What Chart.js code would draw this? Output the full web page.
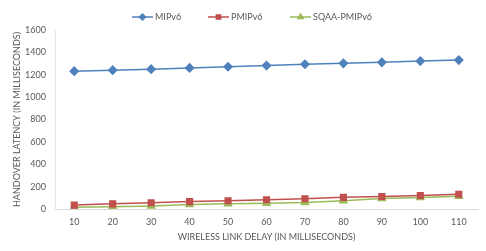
<!DOCTYPE html>
<html><head><meta charset="utf-8">
<script src="https://cdn.jsdelivr.net/npm/chart.js@4/dist/chart.umd.min.js"></script>
<style>html,body{margin:0;padding:0;background:#fff}#w{width:486px;height:251px}</style>
</head><body><div id="w"><canvas id="c"></canvas></div>
<script>
const categories = ['10','20','30','40','50','60','70','80','90','100','110'];
const mipv6 = [1232,1241,1250,1261,1272,1282,1294,1302,1311,1322,1331];
const pmipv6 = [35,46,56,66,74,83,92,104,112,121,132];
const sqaa = [15,21,27,40,46,52,58,73,94,102,113];
const yTicks = [0,200,400,600,800,1000,1200,1400,1600];
const seriesNames = ['MIPv6','PMIPv6','SQAA-PMIPv6'];

const FONT = 'Lato, "Open Sans", sans-serif';
const legendPlugin = {
  id: 'lineLegend',
  afterDraw(chart) {
    const ctx = chart.ctx;
    const xs = [132, 208, 290];
    const y = 17;
    chart.data.datasets.forEach((ds, i) => {
      const x = xs[i];
      ctx.save();
      ctx.strokeStyle = ds.borderColor; ctx.lineWidth = 1.5;
      ctx.beginPath(); ctx.moveTo(x, y); ctx.lineTo(x + 21, y); ctx.stroke();
      ctx.fillStyle = ds.pointBackgroundColor; ctx.strokeStyle = ds.pointBorderColor;
      Chart.helpers.drawPoint(ctx, {pointStyle: ds.pointStyle, radius: 3, borderWidth: 1}, x + 10.5, y);
      ctx.fillStyle = '#595959'; ctx.font = '9px ' + FONT; ctx.textBaseline = 'middle';
      ctx.fillText(ds.label, x + 23, y);
      ctx.restore();
    });
  }
};

new Chart(document.getElementById('c'), {
  type: 'line',
  data: {
    labels: categories,
    datasets: [
      {label: seriesNames[0], data: mipv6, borderColor: '#4F81BD', backgroundColor: '#4F81BD', pointBackgroundColor: '#4F81BD', pointBorderColor: '#4F81BD', pointStyle: 'rectRot', pointRadius: 4, borderWidth: 1.5},
      {label: seriesNames[1], data: pmipv6, borderColor: '#C0504D', backgroundColor: '#C0504D', pointBackgroundColor: '#C0504D', pointBorderColor: '#C0504D', pointStyle: 'rect', pointRadius: 4, borderWidth: 1.5},
      {label: seriesNames[2], data: sqaa, borderColor: '#9BBB59', backgroundColor: '#9BBB59', pointBackgroundColor: '#9BBB59', pointBorderColor: '#9BBB59', pointStyle: 'triangle', pointRadius: 4, borderWidth: 1.5}
    ]
  },
  options: {
    responsive: true, maintainAspectRatio: false, animation: false,
    layout: {padding: {top: 30, right: 8, left: 0, bottom: 0}},
    plugins: {legend: {display: false}, tooltip: {enabled: false}},
    scales: {
      x: {
        offset: true,
        afterFit(axis) { axis.height = 42; },
        grid: {display: false, drawTicks: false},
        border: {color: '#D9D9D9'},
        ticks: {color: '#595959', font: {family: FONT, size: 9}, padding: 8, maxRotation: 0},
        title: {display: true, text: 'WIRELESS LINK DELAY (IN MILLISECONDS)', color: '#595959', font: {family: FONT, size: 9}, padding: {top: 0, bottom: 9}}
      },
      y: {
        min: 0, max: 1600,
        afterFit(axis) { axis.width = 55; },
        afterBuildTicks(axis) { axis.ticks = yTicks.map(v => ({value: v})); },
        grid: {display: false, drawTicks: false},
        border: {color: '#E6E6E6'},
        ticks: {color: '#595959', font: {family: FONT, size: 9}, padding: 9, callback: v => String(v)},
        title: {display: true, text: 'HANDOVER LATENCY (IN MILLISECONDS)', color: '#595959', font: {family: FONT, size: 9}, padding: {top: 12, bottom: 0}}
      }
    }
  },
  plugins: [legendPlugin]
});
</script></body></html>
